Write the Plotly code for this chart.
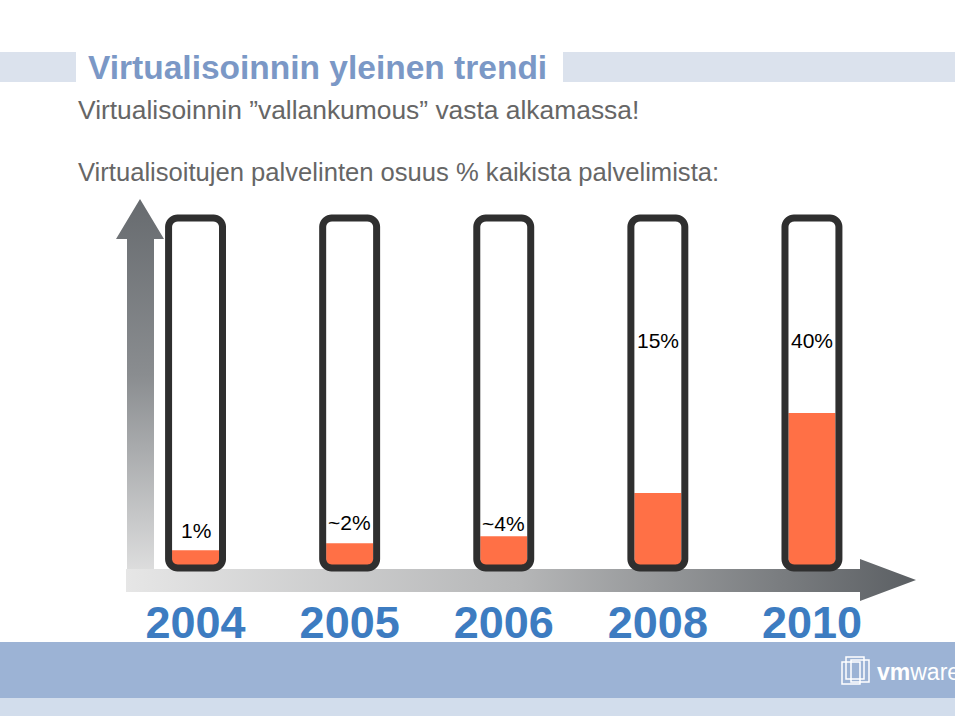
import numpy as np
import plotly.graph_objects as go

# data
years = ["2004", "2005", "2006", "2008", "2010"]
share_labels = ["1%", "~2%", "~4%", "15%", "40%"]
fill_level = [5.1, 7.1, 9.1, 21.4, 44.3]      # orange fill, % of tube height
label_level = [10.6, 13.1, 12.6, 64.9, 64.9]  # where the % labels sit (tube %)

slots = list(range(len(years)))

TUBE_HALF = 0.175   # half width of a tube in slot units
FILL_W = 0.305
PX_X = 154.1        # pixels per slot unit
PX_Y = 3.5          # pixels per tube-% unit


def tube_outline(cx, half, top, r_px=9, n=10):
    rx = r_px / PX_X
    ry = r_px / PX_Y
    # start and end in the middle of the right edge so the joint is straight
    xs, ys = [cx + half], [top / 2]
    corners = [
        (cx + half - rx, top - ry, 0, 90),
        (cx - half + rx, top - ry, 90, 180),
        (cx - half + rx, 0 + ry, 180, 270),
        (cx + half - rx, 0 + ry, 270, 360),
    ]
    for ccx, ccy, a0, a1 in corners:
        t = np.radians(np.linspace(a0, a1, n))
        xs.extend(ccx + rx * np.cos(t))
        ys.extend(ccy + ry * np.sin(t))
    xs.append(cx + half)
    ys.append(top / 2)
    return xs, ys


fig = go.Figure()

# gray axis arrows (pixel coordinates on a full-page subplot)
fig.add_trace(go.Scatter(
    x=[127, 127, 116, 140, 164, 154, 154, 127],
    y=[592, 239, 239, 199, 239, 239, 592, 592],
    mode="lines", line=dict(width=0), fill="toself",
    fillgradient=dict(type="vertical",
                      colorscale=[[0, "#e6e6e6"], [0.55, "#8a8d90"], [1, "#676b6f"]]),
    hoverinfo="skip", xaxis="x", yaxis="y", showlegend=False,
))
fig.add_trace(go.Scatter(
    x=[126, 860, 860, 916, 860, 860, 126, 126],
    y=[569, 569, 559, 580, 601, 592, 592, 569],
    mode="lines", line=dict(width=0), fill="toself",
    fillgradient=dict(type="horizontal",
                      colorscale=[[0, "#e6e6e6"], [0.5, "#b5b6b7"], [1, "#5b5f63"]]),
    hoverinfo="skip", xaxis="x", yaxis="y", showlegend=False,
))

# tubes
fig.add_trace(go.Bar(
    x=slots, y=[100] * len(slots), width=2 * TUBE_HALF,
    marker=dict(color="white", line=dict(width=0)),
    hoverinfo="skip", xaxis="x2", yaxis="y2", showlegend=False,
))
fig.add_trace(go.Bar(
    x=slots, y=fill_level, width=FILL_W,
    marker=dict(color="#ff7046", line=dict(width=0)),
    hoverinfo="skip", xaxis="x2", yaxis="y2", showlegend=False,
))
for s in slots:
    ox, oy = tube_outline(s, TUBE_HALF, 100)
    fig.add_trace(go.Scatter(
        x=ox, y=oy, mode="lines",
        line=dict(color="#2f2f2f", width=7, simplify=False),
        hoverinfo="skip", xaxis="x2", yaxis="y2", showlegend=False,
    ))

for s, txt, lv in zip(slots, share_labels, label_level):
    fig.add_annotation(
        x=s, y=lv, xref="x2", yref="y2", text=txt, showarrow=False,
        font=dict(family="Liberation Sans", size=21, color="#000000"),
    )

# slide decoration
shapes = [
    dict(type="rect", xref="paper", yref="paper", x0=0, x1=76 / 960,
         y0=1 - 82 / 718, y1=1 - 52 / 718, fillcolor="#dbe2ed", line_width=0),
    dict(type="rect", xref="paper", yref="paper", x0=563 / 960, x1=955 / 960,
         y0=1 - 82 / 718, y1=1 - 52 / 718, fillcolor="#dbe2ed", line_width=0),
    dict(type="rect", xref="paper", yref="paper", x0=0, x1=955 / 960,
         y0=1 - 698 / 718, y1=1 - 642 / 718, fillcolor="#9cb3d5", line_width=0),
    dict(type="rect", xref="paper", yref="paper", x0=0, x1=955 / 960,
         y0=1 - 716 / 718, y1=1 - 698 / 718, fillcolor="#d2ddec", line_width=0),
]
for x0, y0, x1, y1 in [(842, 662, 860, 684), (846, 657, 864, 679), (851, 660, 869, 682)]:
    shapes.append(dict(type="rect", xref="paper", yref="paper",
                       x0=x0 / 960, x1=x1 / 960, y0=1 - y1 / 718, y1=1 - y0 / 718,
                       line=dict(color="white", width=1.5)))

fig.add_annotation(
    x=86 / 960, y=1 - 67 / 718, xref="paper", yref="paper",
    xanchor="left", yanchor="middle", showarrow=False,
    text="<b>Virtualisoinnin yleinen trendi</b>",
    font=dict(family="Liberation Sans", size=33.5, color="#7b98c6"),
)
fig.add_annotation(
    x=76 / 960, y=1 - 110 / 718, xref="paper", yref="paper",
    xanchor="left", yanchor="middle", showarrow=False,
    text="Virtualisoinnin ”vallankumous” vasta alkamassa!",
    font=dict(family="Liberation Sans", size=26.4, color="#666666"),
)
fig.add_annotation(
    x=76 / 960, y=1 - 172 / 718, xref="paper", yref="paper",
    xanchor="left", yanchor="middle", showarrow=False,
    text="Virtualisoitujen palvelinten osuus % kaikista palvelimista:",
    font=dict(family="Liberation Sans", size=25.6, color="#666666"),
)
fig.add_annotation(
    x=875 / 960, y=1 - 672 / 718, xref="paper", yref="paper",
    xanchor="left", yanchor="middle", showarrow=False,
    text="<b>vm</b>ware",
    font=dict(family="Liberation Sans", size=23, color="white"),
)

fig.update_layout(
    width=960, height=718,
    margin=dict(l=0, r=0, t=0, b=0),
    paper_bgcolor="white", plot_bgcolor="rgba(0,0,0,0)",
    barmode="overlay", showlegend=False,
    shapes=shapes,
    xaxis=dict(domain=[0, 1], range=[0, 960], visible=False, fixedrange=True),
    yaxis=dict(domain=[0, 1], range=[718, 0], visible=False, fixedrange=True),
    xaxis2=dict(
        domain=[118.5 / 960, 889 / 960], range=[-0.5, 4.5], anchor="y2",
        tickvals=slots, ticktext=years, showgrid=False, zeroline=False,
        showline=False, ticks="", fixedrange=True,
        tickfont=dict(family="Liberation Sans", size=45, color="#3d7cc1", weight="bold"),
    ),
    yaxis2=dict(
        domain=[1 - 592 / 718, 1 - 204 / 718], range=[-24 / 3.5, 104], anchor="x2",
        visible=False, fixedrange=True,
    ),
)

fig.write_html("out.html", config={"displayModeBar": False},
               post_script="document.body.style.margin='0';")
